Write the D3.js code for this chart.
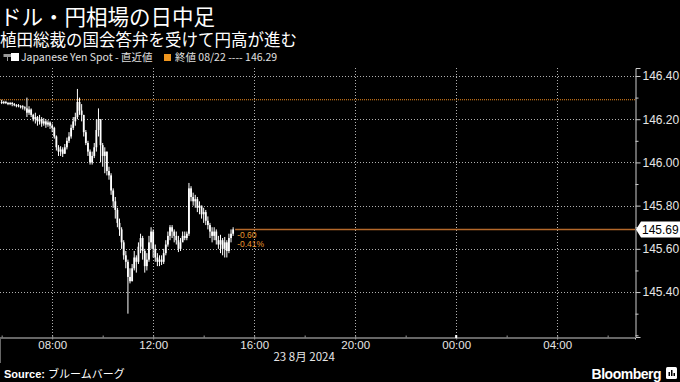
<!DOCTYPE html>
<html>
<head>
<meta charset="utf-8">
<script src="https://cdn.jsdelivr.net/npm/d3@7"></script>
<style>
body{margin:0;background:#000;}
svg{display:block;font-family:"Liberation Sans",Arial,sans-serif;}
.cjk{font-family:"Noto Sans CJK JP","Liberation Sans",sans-serif;}
</style>
</head>
<body>
<svg id="chart" width="680" height="382"></svg>
<script>
const title = 'ドル・円相場の日中足'
const subtitle = '植田総裁の国会答弁を受けて円高が進む'
const seriesName = 'Japanese Yen Spot - 直近値'
const prevName = '終値 08/22 ---- 146.29'
const dateLabel = '23 8月 2024'

const prevClose = 146.29
const lastPrice = 145.69
const changeLabels = ['-0.60', '-0.41%']
const yTicks = [145.4, 145.6, 145.8, 146.0, 146.2, 146.4]
const yMinorTicks = [145.3, 145.5, 145.7, 145.9, 146.1, 146.3, 145.2]

// 5 minute bars from 06:00, 23 Aug
const barStart = new Date(2024, 7, 23, 6, 0)
const barMinutes = 5
const firstOpen = 146.28

const closes = [146.28,146.28,146.275,146.27,146.275,146.27,146.265,146.265,146.26,146.26,
146.255,146.25,146.23,146.245,146.22,146.20,146.21,146.19,146.20,146.18,
146.19,146.175,146.185,146.17,146.16,146.12,146.07,146.05,146.06,146.04,
146.07,146.10,146.12,146.16,146.19,146.21,146.28,146.24,146.22,146.14,
146.09,146.05,146.00,146.03,146.07,146.15,146.20,146.08,146.03,146.05,
145.96,145.94,145.87,145.82,145.78,145.72,145.69,145.63,145.57,145.54,
145.47,145.45,145.51,145.56,145.54,145.61,145.65,145.59,145.52,145.55,
145.63,145.68,145.60,145.56,145.54,145.55,145.54,145.58,145.62,145.66,
145.70,145.68,145.66,145.64,145.60,145.63,145.66,145.65,145.67,145.88,
145.84,145.82,145.83,145.79,145.80,145.76,145.77,145.73,145.71,145.68,
145.66,145.68,145.64,145.62,145.64,145.60,145.63,145.59,145.65,145.67,145.69]

const highs = [146.29,146.285,146.285,146.28,146.28,146.28,146.275,146.27,146.27,146.265,
146.265,146.26,146.30,146.26,146.25,146.225,146.23,146.215,146.22,146.21,
146.205,146.20,146.195,146.19,146.18,146.165,146.125,146.08,146.075,146.07,
146.085,146.115,146.14,146.175,146.21,146.23,146.34,146.30,146.27,146.22,
146.15,146.10,146.06,146.05,146.09,146.20,146.25,146.20,146.09,146.07,
146.05,145.98,145.95,145.88,145.84,145.79,145.74,145.70,145.64,145.59,
145.55,145.51,145.53,145.59,145.57,145.63,145.67,145.66,145.60,145.58,
145.66,145.70,145.69,145.62,145.58,145.57,145.57,145.60,145.64,145.68,
145.71,145.71,145.69,145.68,145.66,145.65,145.68,145.68,145.68,145.905,
145.89,145.86,145.85,145.84,145.82,145.80,145.79,145.78,145.75,145.72,
145.70,145.70,145.69,145.66,145.665,145.65,145.655,145.64,145.67,145.69,145.70]

const lows = [146.27,146.27,146.27,146.265,146.265,146.26,146.26,146.255,146.255,146.25,
146.245,146.24,146.21,146.22,146.21,146.19,146.18,146.17,146.175,146.165,
146.17,146.16,146.165,146.155,146.14,146.11,146.055,146.03,146.03,146.025,
146.04,146.06,146.09,146.11,146.15,146.17,146.20,146.22,146.19,146.12,
146.08,146.03,145.99,145.99,146.02,146.05,146.12,146.00,145.98,145.95,
145.94,145.92,145.85,145.79,145.74,145.70,145.66,145.60,145.55,145.51,
145.30,145.44,145.45,145.50,145.49,145.53,145.58,145.55,145.49,145.50,
145.54,145.60,145.56,145.54,145.52,145.52,145.525,145.53,145.57,145.61,
145.64,145.65,145.63,145.62,145.585,145.59,145.64,145.64,145.64,145.66,
145.82,145.80,145.79,145.77,145.76,145.74,145.72,145.71,145.69,145.65,
145.63,145.64,145.62,145.60,145.58,145.57,145.56,145.56,145.58,145.63,145.66]

const svg = d3.select('#chart')

const margin = {left:0, top:68, right:45, bottom:45}
const width = 680
const height = 382
const plotRight = width - margin.right
const plotBottom = height - margin.bottom

const xScale = d3.scaleTime()
.domain([new Date(2024, 7, 23, 5, 56), new Date(2024, 7, 24, 7, 5)])
.range([margin.left, plotRight])

const yScale = d3.scaleLinear()
.domain([145.192, 146.437])
.range([plotBottom, margin.top])

const bars = closes.map((c, i) => ({
	date: d3.timeMinute.offset(barStart, i * barMinutes),
	open: i == 0 ? firstOpen : closes[i - 1],
	close: c,
	high: highs[i],
	low: lows[i]
}))

// titles
svg.append('text').attr('class', 'cjk')
.attr('x', 0).attr('y', 25)
.attr('fill', '#fff').style('font-size', '21.5px')
.text(title)

svg.append('text').attr('class', 'cjk')
.attr('x', 0).attr('y', 45.5)
.attr('fill', '#fff').style('font-size', '16.5px')
.text(subtitle)

// legend
const legend = svg.append('g').attr('transform', 'translate(0,61)')
legend.append('line').attr('x1', 7.5).attr('x2', 7.5).attr('y1', -7).attr('y2', 0).attr('stroke', '#999')
legend.append('rect').attr('x', 3.5).attr('y', -7).attr('width', 8).attr('height', 3).attr('fill', '#999')
legend.append('rect').attr('x', 11).attr('y', -8).attr('width', 8).attr('height', 8).attr('fill', '#fff')
legend.append('text').attr('class', 'cjk').attr('x', 21).attr('y', 0)
.attr('fill', '#e0e0e0').style('font-size', '10.5px').text(seriesName)
legend.append('rect').attr('x', 164).attr('y', -7).attr('width', 7).attr('height', 7).attr('fill', '#f0961e')
legend.append('text').attr('class', 'cjk').attr('x', 175).attr('y', 0)
.attr('fill', '#e0e0e0').style('font-size', '10.5px').text(prevName)

// grid
const grid = svg.append('g')
grid.selectAll('.hgrid')
.data(yTicks)
.enter()
.append('line')
.attr('x1', margin.left).attr('x2', plotRight)
.attr('y1', d => Math.round(yScale(d)) + 0.5).attr('y2', d => Math.round(yScale(d)) + 0.5)
.attr('stroke', '#b0b0b0').attr('stroke-dasharray', '1,2')

const xMajor = d3.timeHour.every(4).range(xScale.domain()[0], xScale.domain()[1])
const xMinor = d3.timeHour.every(2).range(xScale.domain()[0], xScale.domain()[1])

grid.selectAll('.vgrid')
.data(xMajor)
.enter()
.append('line')
.attr('x1', d => Math.round(xScale(d)) + 0.5).attr('x2', d => Math.round(xScale(d)) + 0.5)
.attr('y1', margin.top).attr('y2', plotBottom)
.attr('stroke', '#b0b0b0').attr('stroke-dasharray', '1,2')

// previous close line
svg.append('line')
.attr('x1', margin.left).attr('x2', plotRight)
.attr('y1', yScale(prevClose)).attr('y2', yScale(prevClose))
.attr('stroke', '#f08a1e').attr('stroke-width', 1.2).attr('stroke-dasharray', '1,1')

// last price line
const lastX = xScale(bars[bars.length - 1].date) + 2
svg.append('line')
.attr('x1', lastX).attr('x2', plotRight)
.attr('y1', Math.round(yScale(lastPrice)) + 0.5).attr('y2', Math.round(yScale(lastPrice)) + 0.5)
.attr('stroke', '#b4682a').attr('stroke-width', 1.3)

// candles
const candles = svg.append('g')
candles.selectAll('line')
.data(bars)
.enter()
.append('line')
.attr('x1', d => xScale(d.date)).attr('x2', d => xScale(d.date))
.attr('y1', d => yScale(d.high)).attr('y2', d => yScale(d.low))
.attr('stroke', '#fff').attr('stroke-width', 1)

candles.selectAll('rect')
.data(bars)
.enter()
.append('rect')
.attr('x', d => xScale(d.date) - 0.9)
.attr('width', 1.8)
.attr('y', d => yScale(Math.max(d.open, d.close)))
.attr('height', d => Math.max(1, Math.abs(yScale(d.open) - yScale(d.close))))
.attr('fill', '#fff')

// change labels
svg.selectAll('.chg')
.data(changeLabels)
.enter()
.append('text')
.attr('x', lastX + 2)
.attr('y', (d, i) => yScale(lastPrice) + 8.5 + i * 9)
.attr('fill', '#e8962e')
.style('font-size', '8.5px')
.text(d => d)

// axes
const rightAxis = svg.append('g')
.attr('transform', `translate(${plotRight + 0.5},0)`)
.call(d3.axisRight(yScale).tickValues(yTicks).tickFormat(d3.format('.2f')).tickSize(5).tickPadding(2))
rightAxis.select('.domain').attr('stroke', '#ccc')
rightAxis.selectAll('line').attr('stroke', '#ccc')
rightAxis.selectAll('text').attr('fill', '#e6e6e6').style('font-size', '12px').style('font-family', '"Liberation Sans",Arial,sans-serif')

const rightMinor = svg.append('g')
.attr('transform', `translate(${plotRight + 0.5},0)`)
.call(d3.axisRight(yScale).tickValues(yMinorTicks).tickFormat('').tickSize(3))
rightMinor.select('.domain').remove()
rightMinor.selectAll('line').attr('stroke', '#ccc')

const bottomAxis = svg.append('g')
.attr('transform', `translate(0,${plotBottom + 0.5})`)
.call(d3.axisBottom(xScale).tickValues(xMajor).tickFormat(d3.timeFormat('%H:%M')).tickSize(2).tickPadding(1))
bottomAxis.select('.domain').attr('stroke', '#ccc')
bottomAxis.selectAll('line').attr('stroke', '#999')
bottomAxis.selectAll('text').attr('fill', '#e6e6e6').style('font-size', '11.5px').style('font-family', '"Liberation Sans",Arial,sans-serif')

const bottomMinor = svg.append('g')
.attr('transform', `translate(0,${plotBottom + 0.5})`)
.call(d3.axisBottom(xScale).tickValues(xMinor).tickFormat('').tickSize(-2))
bottomMinor.select('.domain').remove()
bottomMinor.selectAll('line').attr('stroke', '#999')

// day boundary marker
const dayStart = new Date(2024, 7, 24, 0, 0)
svg.append('rect')
.attr('x', xScale(dayStart) - 1).attr('y', plotBottom - 2)
.attr('width', 2).attr('height', 3).attr('fill', '#fff')
svg.append('line')
.attr('x1', 0.5).attr('x2', 0.5).attr('y1', plotBottom).attr('y2', 363)
.attr('stroke', '#666')

svg.append('text').attr('class', 'cjk')
.attr('x', xScale(new Date(2024, 7, 23, 16, 0)) + 50).attr('y', 361)
.attr('text-anchor', 'middle')
.attr('fill', '#e6e6e6').style('font-size', '11.5px')
.text(dateLabel)

// price tag
const tagY = yScale(lastPrice)
svg.append('path')
.attr('d', `M${plotRight + 1},${tagY} L${plotRight + 6},${tagY - 8} L680,${tagY - 8} L680,${tagY + 8} L${plotRight + 6},${tagY + 8} Z`)
.attr('fill', '#fff')
svg.append('text')
.attr('x', plotRight + 7).attr('y', tagY + 4.5)
.attr('fill', '#000').style('font-size', '12px')
.text(d3.format('.2f')(lastPrice))

// footer
const footer = svg.append('text').attr('x', 4).attr('y', 378).attr('fill', '#fff').style('font-size', '11px')
footer.append('tspan').style('font-weight', 'bold').text('Source: ')
footer.append('tspan').attr('class', 'cjk').text('ブルームバーグ')

svg.append('text')
.attr('x', 661).attr('y', 379)
.attr('text-anchor', 'end')
.attr('fill', '#fff').style('font-size', '14px').style('font-weight', 'bold')
.style('letter-spacing', '-0.5px')
.text('Bloomberg')

const icon = svg.append('g').attr('transform', 'translate(666,367)')
icon.append('rect').attr('width', 11).attr('height', 12).attr('rx', 1.5).attr('fill', '#fff')
icon.selectAll('.ib')
.data([[2.5, 5], [5, 3], [7.5, 6]])
.enter()
.append('rect')
.attr('x', d => d[0]).attr('y', d => d[1]).attr('width', 1.5).attr('height', d => 9 - d[1])
.attr('fill', '#000')
</script>
</body>
</html>
